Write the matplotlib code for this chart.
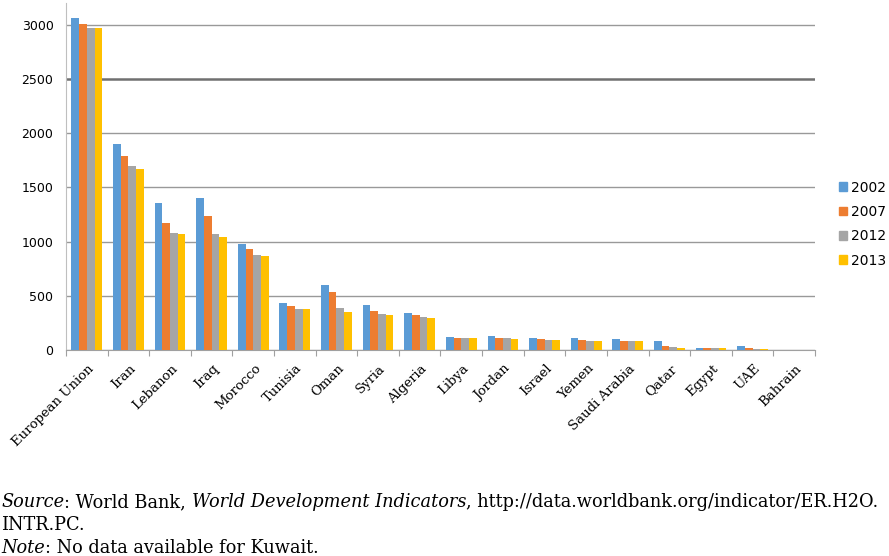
import matplotlib
matplotlib.use("Agg")
from matplotlib import pyplot as plt
from matplotlib.patches import Patch
import numpy as np

countries = ["European Union", "Iran", "Lebanon", "Iraq", "Morocco", "Tunisia",
             "Oman", "Syria", "Algeria", "Libya", "Jordan", "Israel", "Yemen",
             "Saudi Arabia", "Qatar", "Egypt", "UAE", "Bahrain"]
years = ["2002", "2007", "2012", "2013"]
v2002 = [3060, 1900, 1360, 1405, 978, 431, 600, 418, 344, 121, 130, 113, 111, 101, 85, 18, 38, 2]
v2007 = [3010, 1790, 1175, 1237, 935, 406, 535, 360, 326, 108, 110, 102, 93, 84, 38, 18, 18, 2]
v2012 = [2970, 1695, 1083, 1071, 877, 381, 388, 335, 301, 108, 110, 94, 80, 80, 28, 18, 9, 2]
v2013 = [2965, 1670, 1071, 1043, 868, 381, 354, 323, 295, 108, 101, 92, 80, 80, 18, 18, 9, 2]
colors = ["#5B9BD5", "#ED7D31", "#A5A5A5", "#FFC000"]

fig = plt.figure(figsize=(8.89, 5.56), dpi=100)
ax = fig.add_axes([66 / 889, 1 - 350 / 556, (815 - 66) / 889, 347 / 556])

x = np.arange(len(countries))
w = 0.185
for i, vals in enumerate([v2002, v2007, v2012, v2013]):
    ax.bar(x + (i - 1.5) * w, vals, w, color=colors[i], zorder=3)

ax.set_xlim(-0.5, len(countries) - 0.5)
ax.set_ylim(0, 3200)
ax.set_yticks(range(0, 3001, 500))
ax.yaxis.grid(True, color="#999999", linewidth=1.0, zorder=0)
ax.get_ygridlines()[5].set_color("#707070")
ax.get_ygridlines()[5].set_linewidth(1.8)
ax.tick_params(axis="y", length=0, labelsize=9, pad=9)

ax.set_xticks(np.arange(-0.5, len(countries), 1.0))
ax.set_xticklabels([])
ax.tick_params(axis="x", direction="out", length=4, color="#a0a0a0")
for xi, name in zip(x, countries):
    ax.text(xi + 0.02, -110, name, rotation=45, ha="right", va="top",
            rotation_mode="anchor", fontsize=9.5, family="DejaVu Serif")

for s in ["top", "right"]:
    ax.spines[s].set_visible(False)
ax.spines["left"].set_color("#bfbfbf")
ax.spines["bottom"].set_color("#a0a0a0")

handles = [Patch(color=c) for c in colors]
fig.legend(handles, years, loc="upper left", bbox_to_anchor=(826 / 889, 1 - 168 / 556),
           frameon=False, fontsize=10, handlelength=0.6, handleheight=0.6,
           handletextpad=0.3, labelspacing=0.75)

# notes under the chart, mixed italic and upright pieces
tax = fig.add_axes([0, 0, 1, 1])
tax.axis("off")
lines = [
    [("Source", "italic"), (": World Bank, ", "normal"),
     ("World Development Indicators", "italic"),
     (", http://data.worldbank.org/indicator/ER.H2O.", "normal")],
    [("INTR.PC.", "normal")],
    [("Note", "italic"), (": No data available for Kuwait.", "normal")],
]
baselines = [507, 530, 553]
for parts, yb in zip(lines, baselines):
    prev = None
    for txt, style in parts:
        if prev is None:
            prev = tax.text(1 / 889, 1 - yb / 556, txt, fontstyle=style, fontsize=12.8,
                            family="DejaVu Serif", va="baseline", ha="left")
        else:
            prev = tax.annotate(txt, xy=(1, 0), xycoords=prev, va="bottom", ha="left",
                                fontstyle=style, fontsize=12.8, family="DejaVu Serif")

fig.savefig("out.png", dpi=100)
